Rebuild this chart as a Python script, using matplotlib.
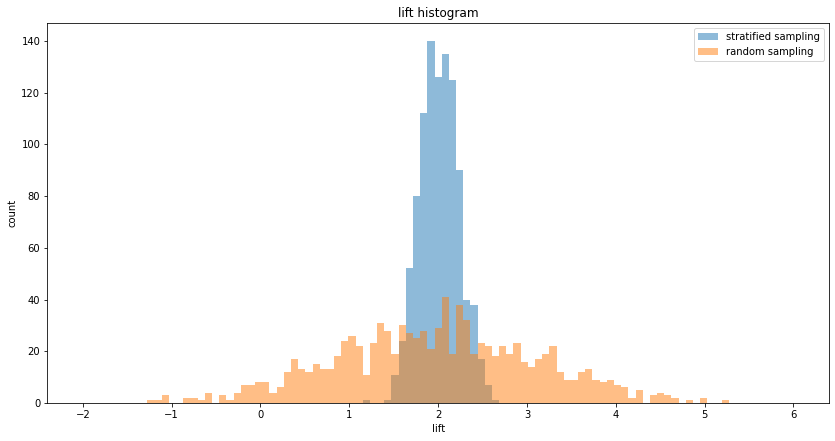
import numpy as np
import matplotlib
matplotlib.use('Agg')
import matplotlib.pyplot as plt

# _____________________________________________________________________________
#                  Dados (contagens por bin)
# _____________________________________________________________________________

# 99 bins iguais entre -2 e 6
bin_edges = np.linspace(-2, 6, 100)

stratified_counts = [
    0, 0, 0, 0, 0, 0, 0, 0, 0, 0,
    0, 0, 0, 0, 0, 0, 0, 0, 0, 0,
    0, 0, 0, 0, 0, 0, 0, 0, 0, 0,
    0, 0, 0, 0, 0, 0, 0, 0, 0, 1,
    0, 0, 1, 11, 24, 52, 80, 112, 140, 126,
    135, 125, 90, 40, 38, 17, 7, 1, 0, 0,
    0, 0, 0, 0, 0, 0, 0, 0, 0, 0,
    0, 0, 0, 0, 0, 0, 0, 0, 0, 0,
    0, 0, 0, 0, 0, 0, 0, 0, 0, 0,
    0, 0, 0, 0, 0, 0, 0, 0, 0]

random_counts = [
    0, 0, 0, 0, 0, 0, 0, 0, 0, 1,
    1, 3, 0, 0, 2, 2, 1, 4, 0, 3,
    1, 4, 7, 7, 8, 8, 4, 6, 12, 17,
    13, 12, 15, 13, 13, 18, 24, 26, 22, 11,
    23, 31, 28, 19, 30, 27, 25, 28, 21, 29,
    41, 19, 38, 32, 19, 23, 22, 18, 22, 19,
    23, 16, 14, 17, 19, 22, 12, 9, 9, 12,
    13, 9, 8, 9, 7, 6, 2, 5, 0, 3,
    4, 3, 2, 0, 1, 0, 2, 0, 0, 1,
    0, 0, 0, 0, 0, 0, 0, 0, 0]

series = {
    'stratified sampling': stratified_counts,
    'random sampling': random_counts,
}

# _____________________________________________________________________________
#                                 PLOTANDO
# _____________________________________________________________________________

plt.rcParams['font.size'] = 10

fig = plt.figure(figsize=(835 / 72, 441 / 72), dpi=72)
ax = fig.add_axes([0.0566, 0.0862, 0.9362, 0.8623])

centers = (bin_edges[:-1] + bin_edges[1:]) / 2
for label, counts in series.items():
    ax.hist(centers, bins=bin_edges, weights=counts, alpha=0.5, label=label)

ax.set_title('lift histogram', fontsize=12)
ax.set_xlabel('lift')
ax.set_ylabel('count')
ax.legend(loc='upper right')

fig.savefig('out.png', dpi=72)
